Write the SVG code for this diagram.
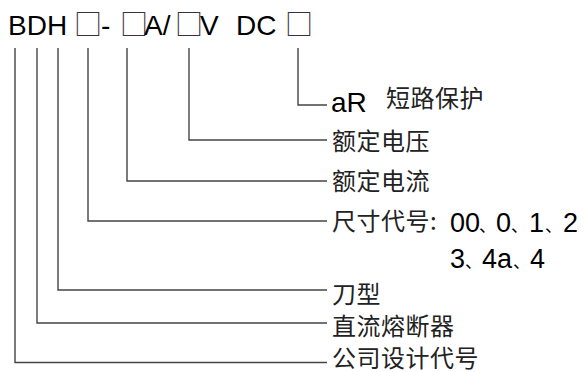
<svg xmlns="http://www.w3.org/2000/svg" width="584" height="372" viewBox="0 0 584 372">
<style>
.t{font-family:"Liberation Sans",Arial,sans-serif;fill:#000;}
.sq{font-family:"Noto Sans CJK SC","DejaVu Sans",sans-serif;fill:#3a3040;letter-spacing:-4px;}
.cn{font-family:"Noto Sans CJK SC","Noto Sans",sans-serif;fill:#222;font-size:24px;letter-spacing:0.5px;}
.cm{font-family:"Noto Sans CJK SC",sans-serif;font-size:17px;}
.ln{fill:none;stroke:#444;stroke-width:1.4;}
</style>
<rect width="584" height="372" fill="#fff"/>
<g id="title">
<text class="t" y="35" font-size="28"><tspan x="8">BDH</tspan><tspan class="sq" x="74">□</tspan><tspan x="101">-</tspan><tspan class="sq" x="120">□</tspan><tspan x="144">A/</tspan><tspan class="sq" x="175">□</tspan><tspan x="200">V</tspan><tspan x="236">DC</tspan><tspan class="sq" x="285">□</tspan></text>
</g>
<g id="connectors">
<path class="ln" d="M298 48V105H327"/>
<path class="ln" d="M189 48V140H327"/>
<path class="ln" d="M127 48V181H327"/>
<path class="ln" d="M88 48V221H327"/>
<path class="ln" d="M58 48V290H327"/>
<path class="ln" d="M37 48V323H327"/>
<path class="ln" d="M15 48V362.5H327"/>
</g>
<g id="protection">
<text class="t" x="331" y="112" font-size="28">aR</text>
<text class="cn" x="386" y="107" font-size="23">短路保护</text>
</g>
<g id="voltage"><text class="cn" x="332" y="150">额定电压</text></g>
<g id="current"><text class="cn" x="332" y="190">额定电流</text></g>
<g id="size">
<text class="cn" x="332" y="230">尺寸代号:</text>
<text class="t" y="232" font-size="27"><tspan x="450">00</tspan><tspan class="cm" x="479">、</tspan><tspan x="496">0</tspan><tspan class="cm" x="511">、</tspan><tspan x="529">1</tspan><tspan class="cm" x="545">、</tspan><tspan x="563">2</tspan></text>
<text class="t" y="268" font-size="27"><tspan x="450">3</tspan><tspan class="cm" x="465">、</tspan><tspan x="482">4a</tspan><tspan class="cm" x="513">、</tspan><tspan x="530">4</tspan></text>
</g>
<g id="blade"><text class="cn" x="332" y="303">刀型</text></g>
<g id="dcfuse"><text class="cn" x="332" y="335">直流熔断器</text></g>
<g id="company"><text class="cn" x="332" y="366.5">公司设计代号</text></g>
</svg>
